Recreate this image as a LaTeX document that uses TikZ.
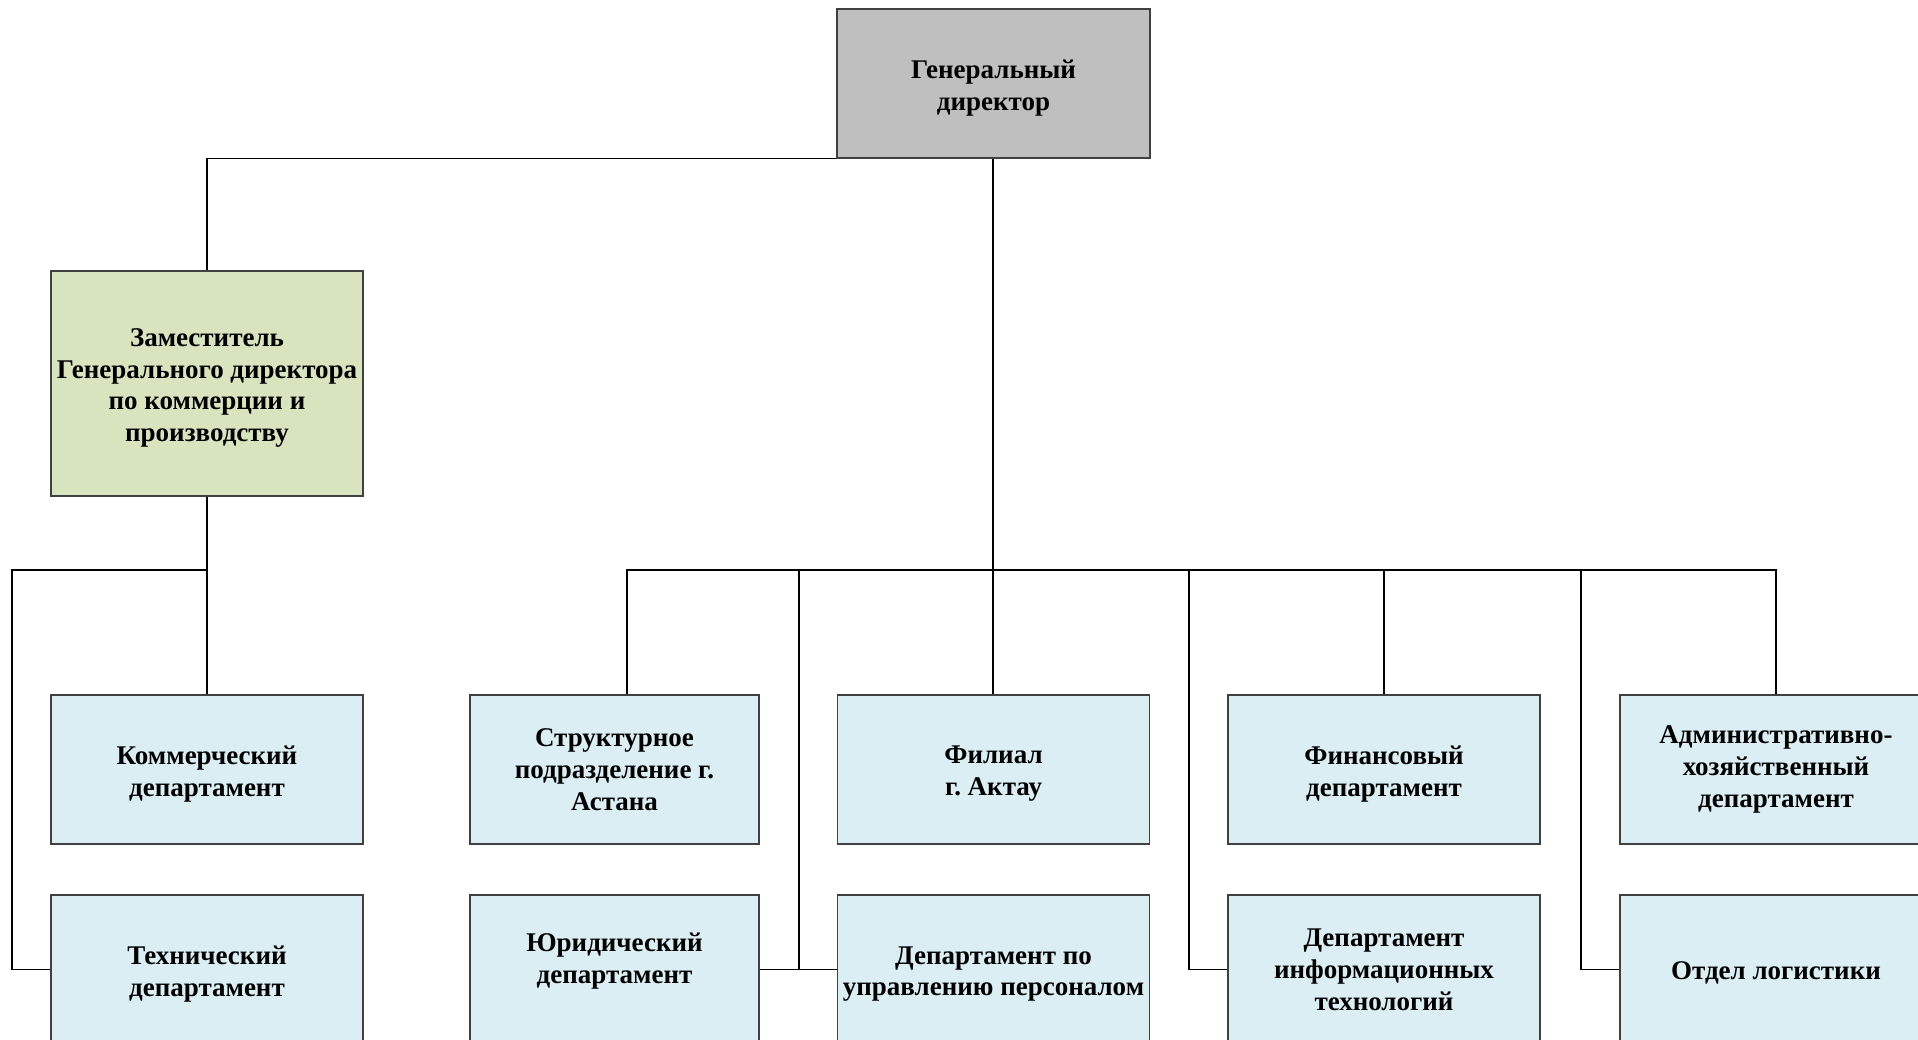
\documentclass[tikz,border=0pt]{standalone}
\usepackage{fontspec}
\setmainfont{Liberation Serif}
\newcommand{\strutup}[1]{\rule{0pt}{#1pt}}
\begin{document}
\begin{tikzpicture}[x=1pt,y=-1pt,
  box/.style={draw=black!75, line width=1.4pt, align=center, inner sep=0pt,
    minimum width=312pt, minimum height=149pt,
    font=\bfseries\fontsize{27}{31.8}\selectfont, fill=blueb},
  narrow/.style={box, minimum width=289pt},
  conn/.style={draw=black, line width=1.1pt}]
\definecolor{blueb}{HTML}{DAEEF3}
\definecolor{greenb}{HTML}{D7E4BD}
\definecolor{grayb}{HTML}{BFBFBF}
\useasboundingbox (0,0) rectangle (1918,1040);
\clip (0,0) rectangle (1918,1040);
\fill[white] (0,0) rectangle (1918,1040);

\coordinate (bL) at (12,570);
\coordinate (b0) at (207,570);
\coordinate (b1) at (627,570);
\coordinate (b2) at (799,570);
\coordinate (b3) at (1189,570);
\coordinate (b4) at (1581,570);

% connectors
\draw[conn] (837,158.5) coordinate (gdsw) -| (207,271);
\draw[conn] (993,158) coordinate (gds) -- (993,695);
\draw[conn] (207,496) coordinate (zs) -- (207,695);
\draw[conn] (b0) -- (bL) |- (51,969.5);
\draw[conn] (b1 |- 0,695) -- (b1) -- (1776,570) -- (1776,695);
\draw[conn] (1384,570) -- (1384,695);
\draw[conn] (b2) -- (799,969.5);
\draw[conn] (759,969.5) -- (837,969.5);
\draw[conn] (b3) |- (1228,969.5);
\draw[conn] (b4) |- (1620,969.5);

% nodes
\node[box, fill=grayb, minimum width=313pt] (gd) at (993.5,83.5) {\strutup{28}Генеральный\\директор};
\node[box, fill=greenb, minimum height=225pt] (zam) at (207,383.5)
  {\strutup{27}Заместитель\\Генерального директора\\по коммерции и\\производству};
\node[box] (kom) at (207,769.5) {\strutup{27}Коммерческий\\департамент};
\node[box] (teh) at (207,969.5) {\strutup{27}Технический\\департамент};
\node[narrow] (str) at (614.5,769.5) {Структурное\\подразделение г.\\Астана};
\node[narrow] (yur) at (614.5,969.5) {\strutup{27}Юридический\\департамент\\[-1pt]\mbox{}};
\node[box] (fil) at (993.5,769.5) {\strutup{26}Филиал\\г.\ Актау};
\node[box] (per) at (993.5,969.5) {\strutup{27}Департамент по\\управлению персоналом};
\node[box] (fin) at (1384,769.5) {\strutup{27}Финансовый\\департамент};
\node[box] (it) at (1384,969.5) {Департамент\\информационных\\технологий};
\node[box] (adm) at (1776,769.5) {Административно-\\хозяйственный\\департамент};
\node[box] (log) at (1776,969.5) {\strutup{24}Отдел логистики};
\end{tikzpicture}
\end{document}
